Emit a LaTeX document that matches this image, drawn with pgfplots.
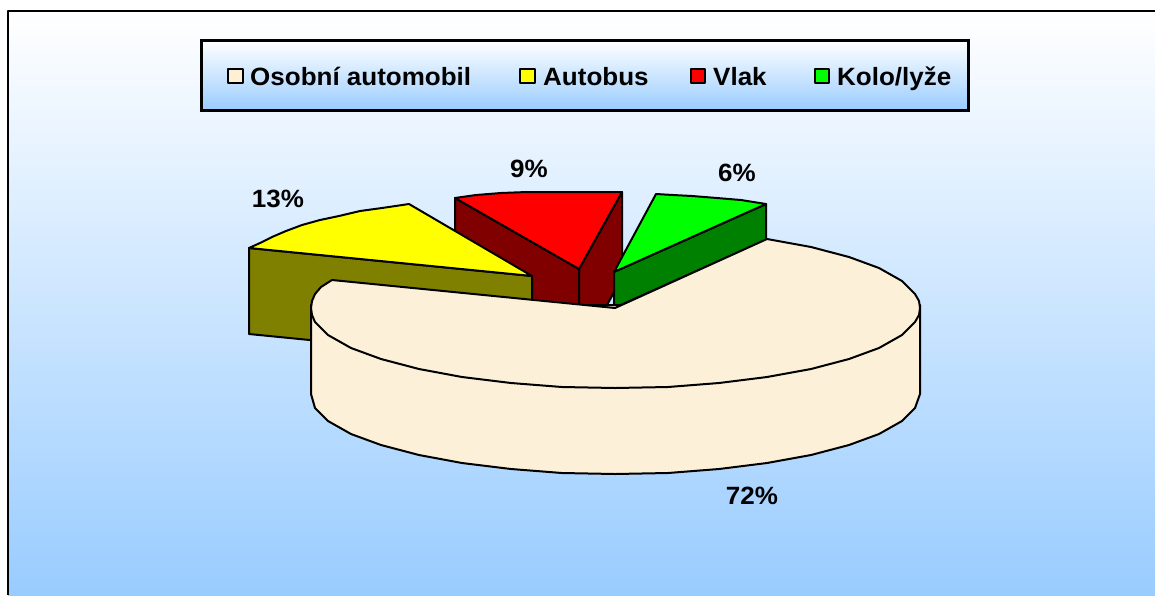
\documentclass[border=0pt]{standalone}
\usepackage{fontspec}
\setmainfont{Liberation Sans}
\usepackage{pgfplots}
\pgfplotsset{compat=1.18}
\usetikzlibrary{shadings}
\definecolor{cream}{HTML}{FDF0D9}
\definecolor{swcream}{HTML}{FFEFD5}
\definecolor{sky}{HTML}{99CCFF}
\definecolor{darkred}{HTML}{800000}
\definecolor{olive2}{HTML}{808000}
\definecolor{dgreen}{HTML}{008000}
\definecolor{pyellow}{HTML}{FFFF00}
\definecolor{pred}{HTML}{FF0000}
\definecolor{pgreen}{HTML}{00FF00}
\newcommand{\lab}[1]{\fontsize{25}{29}\selectfont\bfseries\scalebox{1.04}[1]{#1}}
\begin{document}
\begin{tikzpicture}
\begin{axis}[
  scale only axis, width=1155pt, height=595pt,
  xmin=0, xmax=1155, ymin=0, ymax=595, y dir=reverse,
  hide axis, no markers, clip=true,
  every axis plot/.append style={draw=black, line width=2pt, line join=round},
]
% page extent and background
\path[fill=white, draw=none] (axis cs:0,0) rectangle (axis cs:1155,595);
\path[top color=white, bottom color=sky, draw=none] (axis cs:8,11) rectangle (axis cs:1155,595);
\addplot[line width=2.4pt, line cap=butt] coordinates {(8,595) (8,11) (1155,11)};
% legend frame
\path[top color=white, bottom color=sky, draw=black, line width=2.2pt] (axis cs:201.5,40.5) rectangle (axis cs:968.5,110.5);
\addplot[fill=swcream, line width=1.6pt] coordinates {(228,69) (243,69) (243,83) (228,83)} --cycle;
\addplot[fill=pyellow, line width=1.6pt] coordinates {(520,69) (535,69) (535,83) (520,83)} --cycle;
\addplot[fill=pred, line width=1.6pt] coordinates {(691,69) (705,69) (705,83) (691,83)} --cycle;
\addplot[fill=pgreen, line width=1.6pt] coordinates {(815,69) (829,69) (829,83) (815,83)} --cycle;
\node[anchor=base west, inner sep=0pt] at (axis cs:250,85) {\lab{Osobní automobil}};
\node[anchor=base west, inner sep=0pt] at (axis cs:543,85) {\lab{Autobus}};
\node[anchor=base west, inner sep=0pt] at (axis cs:713,85) {\lab{Vlak}};
\node[anchor=base west, inner sep=0pt] at (axis cs:837,85) {\lab{Kolo/lyže}};
% red slice
\addplot[fill=darkred] coordinates {(455,198) (579,269) (579,355) (455,284)} --cycle;
\addplot[fill=darkred] coordinates {(622,192) (579,269) (579,355) (622,278)} --cycle;
\addplot[fill=pred] coordinates {(455,198) (476,195) (501,193) (527,192) (622,192) (579,269)} --cycle;
% yellow slice
\addplot[fill=olive2] coordinates {(249,248) (532,276) (532,362) (249,334)} --cycle;
\addplot[fill=pyellow] coordinates {(249,248) (260,243) (272,237) (286,231) (302,225) (320,220) (339,216) (360,211) (382,208) (409,204) (532,276)} --cycle;
% green slice
\addplot[fill=dgreen] coordinates {(614,272) (766,204) (766,240) (614,308)} --cycle;
\addplot[fill=pgreen] coordinates {(614,272) (656,194) (673,195) (692,196) (717,198) (741,200) (766,204)} --cycle;
% cream slice: side
\addplot[fill=cream] coordinates {(311,305) (311,394) (315,408) (328,421) (351,434) (381,445) (419,455) (462,463) (511,469) (562,473) (615,474) (668,473) (719,469) (767,463) (811,455) (849,445) (879,434) (902,421) (915,408) (920,394) (920,305)} --cycle;
% cream slice: top
\addplot[fill=cream] coordinates {(615,308) (767,239) (811,247) (849,257) (879,268) (902,281) (915,294) (919,301) (920,308) (919,315) (915,322) (902,335) (879,348) (849,359) (811,369) (767,377) (719,383) (668,387) (615,388) (562,387) (511,383) (462,377) (419,369) (381,359) (351,348) (328,335) (315,322) (312,315) (311,308) (312,301) (315,294) (321,287) (332,280)} --cycle;
% percentages
\node[anchor=base, inner sep=0pt] at (axis cs:278,207) {\lab{13\%}};
\node[anchor=base, inner sep=0pt] at (axis cs:529,177) {\lab{9\%}};
\node[anchor=base, inner sep=0pt] at (axis cs:737,181) {\lab{6\%}};
\node[anchor=base, inner sep=0pt] at (axis cs:752,504) {\lab{72\%}};
\end{axis}
\end{tikzpicture}
\end{document}
